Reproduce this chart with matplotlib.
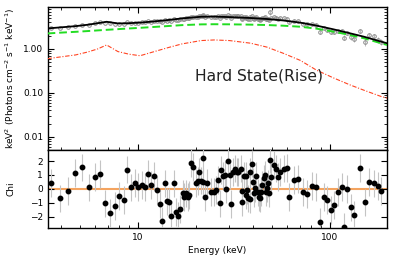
import numpy as np
import matplotlib
matplotlib.use("Agg")
import matplotlib.pyplot as plt
from matplotlib.ticker import LogLocator, FixedLocator, NullFormatter, FixedFormatter

# ---------------- data ----------------
energy = [3.55, 3.93, 4.34, 4.73, 5.15, 5.57, 5.98, 6.39, 6.79, 7.19, 7.64, 8.01, 8.47, 8.85, 9.23,
          9.66, 10.1, 10.5, 10.9, 11.35, 11.8, 12.1, 12.6, 13.0, 13.4, 13.8, 14.2, 14.6, 15.0, 15.5,
          15.9, 16.3, 16.7, 17.2, 17.5, 17.8, 18.2, 18.6, 18.9, 19.5, 20.1, 20.5, 20.9, 21.3, 21.8,
          22.0, 22.5, 23.0, 24.1, 25.0, 25.5, 26.2, 26.8, 27.1, 27.9, 28.3, 28.9, 29.6, 30.3, 30.6,
          31.3, 32.0, 32.7, 33.2, 34.4, 34.9, 35.1, 35.7, 36.4, 36.8, 37.2, 37.6, 38.2, 38.6, 39.3,
          39.9, 40.3, 41.0, 41.5, 42.1, 42.6, 43.4, 43.9, 44.5, 45.2, 45.7, 46.3, 46.9, 47.5, 48.1,
          49.0, 49.6, 51.1, 52.2, 53.7, 55.3, 57.5, 59.8, 61.5, 64.7, 68.1, 72.8, 76.4, 80.5, 84.8,
          88.7, 93.1, 97.0, 101, 105.6, 110, 115, 119, 123, 128, 134, 143, 152, 160, 169, 178, 185]

chi = [0.43, -0.69, -0.14, 1.15, 1.54, 0.10, 0.86, 1.08, -1.05, -1.75, -1.22, -0.50, -0.81, 1.39, 0.10,
       0.43, 0.12, 0.27, 0.12, 1.08, 0.27, 0.91, -0.09, -1.08, -2.30, 0.39, -0.91, -0.96, -1.99, 0.39,
       -1.68, -1.96, -1.44, -0.33, -0.57, -0.33, -0.57, -0.45, 1.87, 1.58, 0.43, 0.57, 1.22, 0.60, 2.19,
       0.50, -0.57, 0.43, -0.21, -0.21, -0.10, 0.63, -1.05, 1.34, 0.94, 1.00, -0.02, 2.01, 1.00, -1.10,
       1.24, 1.46, 1.24, 1.24, 1.46, -0.16, -0.98, 0.94, 0.94, -0.45, -0.09, -0.69, 1.24, -0.72, 1.82,
       0.50, -0.33, 0.05, 0.94, -0.26, -0.57, -0.69, -0.21, 0.27, 0.75, 0.99, -0.26, 0.05, 0.39, -0.33,
       2.11, 0.87, 1.70, 1.46, 0.87, 1.22, 1.46, 1.51, -0.57, 0.63, 0.70, -0.21, -0.38, 0.19, 0.14,
       -2.37, -0.57, -0.81, -1.53, -1.17, -0.21, 0.12, -2.73, -0.02, -1.34, -1.90, 1.53, -0.98, 0.50, 0.39, 0.19, -0.14]

chi_err = 1.0

flux = [3.00, 3.02, 3.19, 3.40, 3.59, 3.59, 3.85, 4.06, 3.97, 3.84, 3.74, 3.74, 3.73, 4.00, 3.88,
        3.96, 3.96, 4.02, 4.06, 4.24, 4.20, 4.32, 4.28, 4.21, 4.10, 4.51, 4.40, 4.45, 4.36, 4.77,
        4.51, 4.54, 4.69, 4.92, 4.91, 4.98, 4.98, 5.04, 5.43, 5.44, 5.34, 5.40, 5.55, 5.49, 6.00,
        5.55, 5.26, 5.54, 5.39, 5.40, 5.41, 5.58, 5.13, 5.75, 5.62, 5.63, 5.33, 5.85, 5.55, 4.99,
        5.59, 5.61, 5.53, 5.52, 5.55, 5.11, 4.89, 5.37, 5.35, 4.99, 5.07, 4.91, 5.37, 4.87, 5.58,
        5.16, 4.90, 4.98, 5.29, 4.84, 4.72, 4.65, 4.81, 4.97, 5.12, 5.20, 4.72, 4.81, 4.92, 4.64,
        6.90, 5.05, 5.30, 5.17, 4.90, 4.96, 4.96, 4.86, 4.07, 4.36, 4.26, 3.78, 3.61, 3.62, 3.46,
        2.49, 2.94, 2.76, 2.45, 2.45, 2.60, 2.55, 1.80, 2.36, 1.85, 1.68, 2.60, 1.45, 2.10, 1.95, 1.62, 1.45]

flux_err = [0.09, 0.09, 0.10, 0.10, 0.10, 0.11, 0.11, 0.12, 0.12, 0.12, 0.12, 0.11, 0.11, 0.12, 0.12,
            0.12, 0.12, 0.12, 0.12, 0.12, 0.13, 0.13, 0.13, 0.13, 0.13, 0.13, 0.14, 0.14, 0.14, 0.14,
            0.14, 0.14, 0.15, 0.15, 0.15, 0.15, 0.15, 0.15, 0.15, 0.16, 0.27, 0.27, 0.27, 0.27, 0.27,
            0.27, 0.27, 0.27, 0.27, 0.27, 0.27, 0.27, 0.27, 0.27, 0.27, 0.27, 0.27, 0.27, 0.26, 0.26,
            0.26, 0.26, 0.26, 0.26, 0.26, 0.26, 0.26, 0.26, 0.26, 0.26, 0.25, 0.25, 0.25, 0.25, 0.30,
            0.30, 0.40, 0.40, 0.40, 0.39, 0.39, 0.39, 0.39, 0.39, 0.39, 0.39, 0.39, 0.38, 0.38, 0.38,
            0.95, 0.38, 0.37, 0.37, 0.37, 0.36, 0.36, 0.35, 0.34, 0.33, 0.32, 0.31, 0.30, 0.29, 0.34,
            0.33, 0.31, 0.30, 0.29, 0.28, 0.27, 0.25, 0.24, 0.24, 0.23, 0.22, 0.30, 0.28, 0.26, 0.25, 0.23, 0.22]

model_energy = [3.4, 4.0, 4.76, 5.5, 6.2, 6.9, 7.9, 9.0, 10.3, 12.0, 14.4, 17.0, 21.4, 25.0, 30.0,
                38.7, 47.0, 57.0, 70.0, 85.0, 104.0, 127.0, 150.0, 184.0, 200.0]
model_total = [2.93, 3.10, 3.30, 3.55, 3.85, 4.15, 3.80, 3.85, 3.97, 4.20, 4.55, 4.95, 5.40, 5.45, 5.30,
               5.05, 4.80, 4.45, 3.97, 3.40, 2.80, 2.27, 1.90, 1.47, 1.33]
model_comp1 = [2.25, 2.35, 2.45, 2.55, 2.64, 2.72, 2.82, 2.92, 3.02, 3.15, 3.32, 3.48, 3.62, 3.65, 3.63,
               3.57, 3.50, 3.38, 3.20, 2.90, 2.48, 2.08, 1.75, 1.35, 1.22]
model_comp2 = [0.60, 0.66, 0.73, 0.85, 1.00, 1.23, 0.87, 0.76, 0.70, 0.85, 1.07, 1.30, 1.55, 1.60, 1.55,
               1.35, 1.10, 0.80, 0.55, 0.33, 0.22, 0.152, 0.115, 0.083, 0.075]

state_label = "Hard State(Rise)"

# ---------------- figure ----------------
W, H = 399, 259
fig = plt.figure(figsize=(W / 100, H / 100), dpi=100)
L, R = 48 / W, 387 / W
top_top = 1 - 7 / H
mid = 1 - 150 / H
bot = 1 - 228 / H
ax1 = fig.add_axes([L, mid, R - L, top_top - mid])
ax2 = fig.add_axes([L, bot, R - L, mid - bot], sharex=ax1)

fs = 6.5
for ax in (ax1, ax2):
    ax.set_xscale('log')
    for s in ax.spines.values():
        s.set_linewidth(1.0)
        s.set_color('black')

# top panel
ax1.errorbar(energy, flux, yerr=flux_err, fmt='o', ms=2.6, mfc='none', mec='#8c8c8c', mew=0.7,
             ecolor='#b0b0b0', elinewidth=0.6, capsize=0, zorder=2)
ax1.plot(model_energy, model_total, color='black', lw=1.3, zorder=4)
ax1.plot(model_energy, model_comp1, color='#22dd22', lw=1.4, ls=(0, (4, 2)), zorder=3)
ax1.plot(model_energy, model_comp2, color='#ff4422', lw=0.8, ls=(0, (4, 1.5, 1, 1.5)), zorder=3)
ax1.set_yscale('log')
ax1.set_xlim(3.42, 198)
ax1.set_ylim(0.005, 9.0)
ax1.yaxis.set_major_locator(FixedLocator([0.01, 0.1, 1.0]))
ax1.yaxis.set_major_formatter(FixedFormatter(['0.01', '0.10', '1.00']))
ax1.yaxis.set_minor_locator(LogLocator(base=10, subs=np.arange(2, 10)))
ax1.yaxis.set_minor_formatter(NullFormatter())
ax1.tick_params(axis='x', which='both', labelbottom=False)
ax1.text(0.433, 0.52, state_label, transform=ax1.transAxes, fontsize=11.2,
         color='#222222', va='center', ha='left')
ax1.set_ylabel(r'keV$^2$ (Photons cm$^{-2}$ s$^{-1}$ keV$^{-1}$)', fontsize=fs, labelpad=4)

# bottom panel
ax2.axhline(0, color='#f4a460', lw=1.5, zorder=1)
ax2.errorbar(energy, chi, yerr=chi_err, fmt='o', ms=3.2, mfc='black', mec='black',
             ecolor='#c4c4c4', elinewidth=0.8, capsize=0, zorder=3)
ax2.set_ylim(-2.82, 2.8)
ax2.yaxis.set_major_locator(FixedLocator([-2, -1, 0, 1, 2]))
ax2.xaxis.set_major_locator(FixedLocator([10, 100]))
ax2.xaxis.set_major_formatter(FixedFormatter(['10', '100']))
ax2.xaxis.set_minor_locator(LogLocator(base=10, subs=np.arange(2, 10)))
ax2.xaxis.set_minor_formatter(NullFormatter())
ax2.set_xlabel('Energy (keV)', fontsize=fs, labelpad=3)
ax2.set_ylabel('Chi', fontsize=fs, labelpad=10)
ax2.set_xlim(3.42, 198)

ax1.tick_params(which='both', direction='in', top=True, right=True, labelsize=fs)
ax1.tick_params(which='major', length=4, width=0.8)
ax1.tick_params(which='minor', length=2.2, width=0.6)
ax2.tick_params(which='both', direction='in', top=False, right=True, labelsize=fs)
ax2.tick_params(which='major', length=4, width=0.8)
ax2.tick_params(which='minor', length=2.2, width=0.6)
ax2.tick_params(axis='y', which='minor', left=False, right=False)

fig.savefig('out.png', dpi=100)
